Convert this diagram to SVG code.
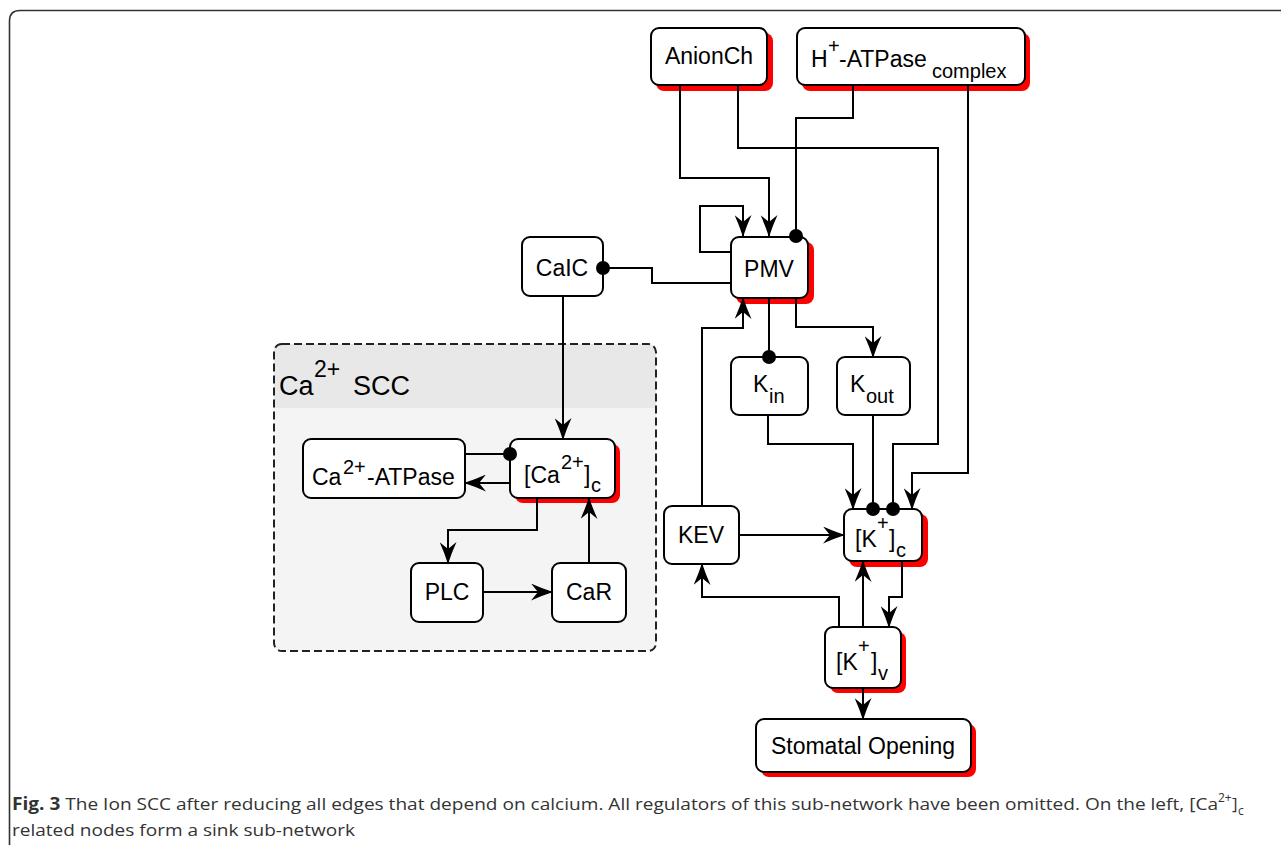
<svg xmlns="http://www.w3.org/2000/svg" width="1281" height="845" viewBox="0 0 1281 845">
<defs>
<marker id="arr" markerUnits="userSpaceOnUse" viewBox="0 0 22 17" refX="21" refY="8.5" markerWidth="22" markerHeight="17" orient="auto">
<path d="M0,0 Q11,5 22,8.5 Q11,12 0,17 L7,8.5 Z" fill="#000"/>
</marker>
<marker id="dot" markerUnits="userSpaceOnUse" viewBox="0 0 16 16" refX="8" refY="8" markerWidth="16" markerHeight="16" orient="auto">
<circle cx="8" cy="8" r="7" fill="#000"/>
</marker>
<style>
.box{fill:#fff;stroke:#000;stroke-width:2}
.sh{fill:#ff0000;stroke:none}
.t{font-family:"Liberation Sans",Arial,sans-serif;font-size:23px;fill:#000}
.s{font-size:20px}
.e{fill:none;stroke:#000;stroke-width:2}
.a{marker-end:url(#arr)}
.d{marker-end:url(#dot)}
.cap{font-family:"Open Sans","Liberation Sans",sans-serif;font-size:17px;fill:#333}
</style>
</defs>
<rect width="1281" height="845" fill="#fff"/>
<path d="M9.5,850 V21 Q9.5,10.5 20,10.5 H1290" fill="none" stroke="#333" stroke-width="1.6"/>

<g id="ca-scc">
<rect x="274" y="344" width="382" height="307" rx="8" fill="#f4f4f4"/>
<path d="M274,408 V352 Q274,344 282,344 H648 Q656,344 656,352 V408 Z" fill="#e8e8e8"/>
<rect x="274" y="344" width="382" height="307" rx="8" fill="none" stroke="#222" stroke-width="2" stroke-dasharray="8,4"/>
<text class="t" style="font-size:27px" x="279" y="395">Ca<tspan style="font-size:23px" x="314" y="377">2+</tspan><tspan x="353" y="395">SCC</tspan></text>
</g>

<g id="anionch">
<rect class="sh" x="656" y="33" width="117" height="58" rx="8"/>
<rect class="box" x="651" y="28" width="116" height="57" rx="8"/>
<text class="t" x="709" y="64" text-anchor="middle">AnionCh</text>
</g>
<g id="hatpase">
<rect class="sh" x="802" y="33" width="228" height="58" rx="8"/>
<rect class="box" x="797" y="28" width="228" height="57" rx="8"/>
<text class="t" x="811" y="67">H<tspan class="s" x="828" y="53">+</tspan><tspan x="839" y="67">-ATPase</tspan><tspan class="s" x="932" y="78">complex</tspan></text>
</g>
<g id="pmv">
<rect class="sh" x="736" y="242" width="78" height="62" rx="8"/>
<rect class="box" x="731" y="237" width="77" height="61" rx="8"/>
<text class="t" x="769" y="277" text-anchor="middle">PMV</text>
</g>
<g id="caic">
<rect class="box" x="522" y="237" width="81" height="59" rx="8"/>
<text class="t" x="562" y="276" text-anchor="middle">CaIC</text>
</g>
<g id="kin">
<rect class="box" x="731" y="357" width="77" height="58" rx="8"/>
<text class="t" x="753" y="392">K<tspan class="s" x="769" y="403">in</tspan></text>
</g>
<g id="kout">
<rect class="box" x="837" y="357" width="73" height="58" rx="8"/>
<text class="t" x="850" y="392">K<tspan class="s" x="866" y="403">out</tspan></text>
</g>
<g id="caatpase">
<rect class="box" x="303" y="439" width="162" height="59" rx="8"/>
<text class="t" x="312" y="485">Ca<tspan class="s" x="343" y="474">2+</tspan><tspan x="367" y="485">-ATPase</tspan></text>
</g>
<g id="cac">
<rect class="sh" x="515" y="444" width="105" height="59" rx="8"/>
<rect class="box" x="510" y="439" width="105" height="59" rx="8"/>
<text class="t" x="524" y="483">[Ca<tspan class="s" x="561" y="469">2+</tspan><tspan x="584" y="483">]</tspan><tspan class="s" x="591" y="492">c</tspan></text>
</g>
<g id="plc">
<rect class="box" x="411" y="563" width="72" height="59" rx="8"/>
<text class="t" x="447" y="600" text-anchor="middle">PLC</text>
</g>
<g id="car">
<rect class="box" x="552" y="563" width="74" height="59" rx="8"/>
<text class="t" x="589" y="600" text-anchor="middle">CaR</text>
</g>
<g id="kev">
<rect class="box" x="664" y="506" width="75" height="58" rx="8"/>
<text class="t" x="701" y="543" text-anchor="middle">KEV</text>
</g>
<g id="kc">
<rect class="sh" x="849" y="514" width="79" height="53" rx="8"/>
<rect class="box" x="844" y="509" width="78" height="52" rx="8"/>
<text class="t" x="855" y="547">[K<tspan class="s" x="877" y="530">+</tspan><tspan x="889" y="547">]</tspan><tspan class="s" x="896" y="557">c</tspan></text>
</g>
<g id="kv">
<rect class="sh" x="830" y="632" width="76" height="61" rx="8"/>
<rect class="box" x="825" y="627" width="76" height="61" rx="8"/>
<text class="t" x="836" y="670">[K<tspan class="s" x="858" y="653">+</tspan><tspan x="871" y="670">]</tspan><tspan class="s" x="878" y="680">v</tspan></text>
</g>
<g id="stomatal">
<rect class="sh" x="761" y="724" width="215" height="53" rx="8"/>
<rect class="box" x="756" y="719" width="215" height="53" rx="8"/>
<text class="t" x="863" y="754" text-anchor="middle">Stomatal Opening</text>
</g>

<g id="connectors">
<path class="e a" d="M680,86 V178 H769 V236"/>
<path class="e d" d="M738,86 V148 H938 V444 H893 V509"/>
<path class="e d" d="M853,86 V118 H796 V236"/>
<path class="e a" d="M730,252 H700 V206 H743 V236"/>
<path class="e d" d="M730,283 H652 V268 H603"/>
<path class="e d" d="M769,299 V357"/>
<path class="e a" d="M796,299 V327 H873 V357"/>
<path class="e a" d="M702,505 V328 H743 V298"/>
<path class="e a" d="M563,297 V439"/>
<path class="e a" d="M509,483 H465"/>
<path class="e d" d="M466,454 H510"/>
<path class="e a" d="M537,499 V530 H448 V563"/>
<path class="e a" d="M484,592 H552"/>
<path class="e a" d="M589,562 V498"/>
<path class="e a" d="M740,535 H844"/>
<path class="e a" d="M839,626 V597 H702 V564"/>
<path class="e a" d="M863,626 V561"/>
<path class="e a" d="M902,562 V597 H889 V627"/>
<path class="e a" d="M863,689 V719"/>
<path class="e a" d="M768,416 V444 H853 V509"/>
<path class="e d" d="M873,416 V509"/>
<path class="e a" d="M968,86 V473 H912 V509"/>
</g>

<g id="caption">
<text class="cap" x="12" y="810" textLength="1206" lengthAdjust="spacingAndGlyphs"><tspan font-weight="bold">Fig. 3</tspan> The Ion SCC after reducing all edges that depend on calcium. All regulators of this sub-network have been omitted. On the left, [Ca</text>
<text class="cap" style="font-size:12px" x="1218" y="802">2+</text>
<text class="cap" x="1232" y="810">]</text>
<text class="cap" style="font-size:12px" x="1238" y="815">c</text>
<text class="cap" x="12" y="836" textLength="343" lengthAdjust="spacingAndGlyphs">related nodes form a sink sub-network</text>
</g>
</svg>
